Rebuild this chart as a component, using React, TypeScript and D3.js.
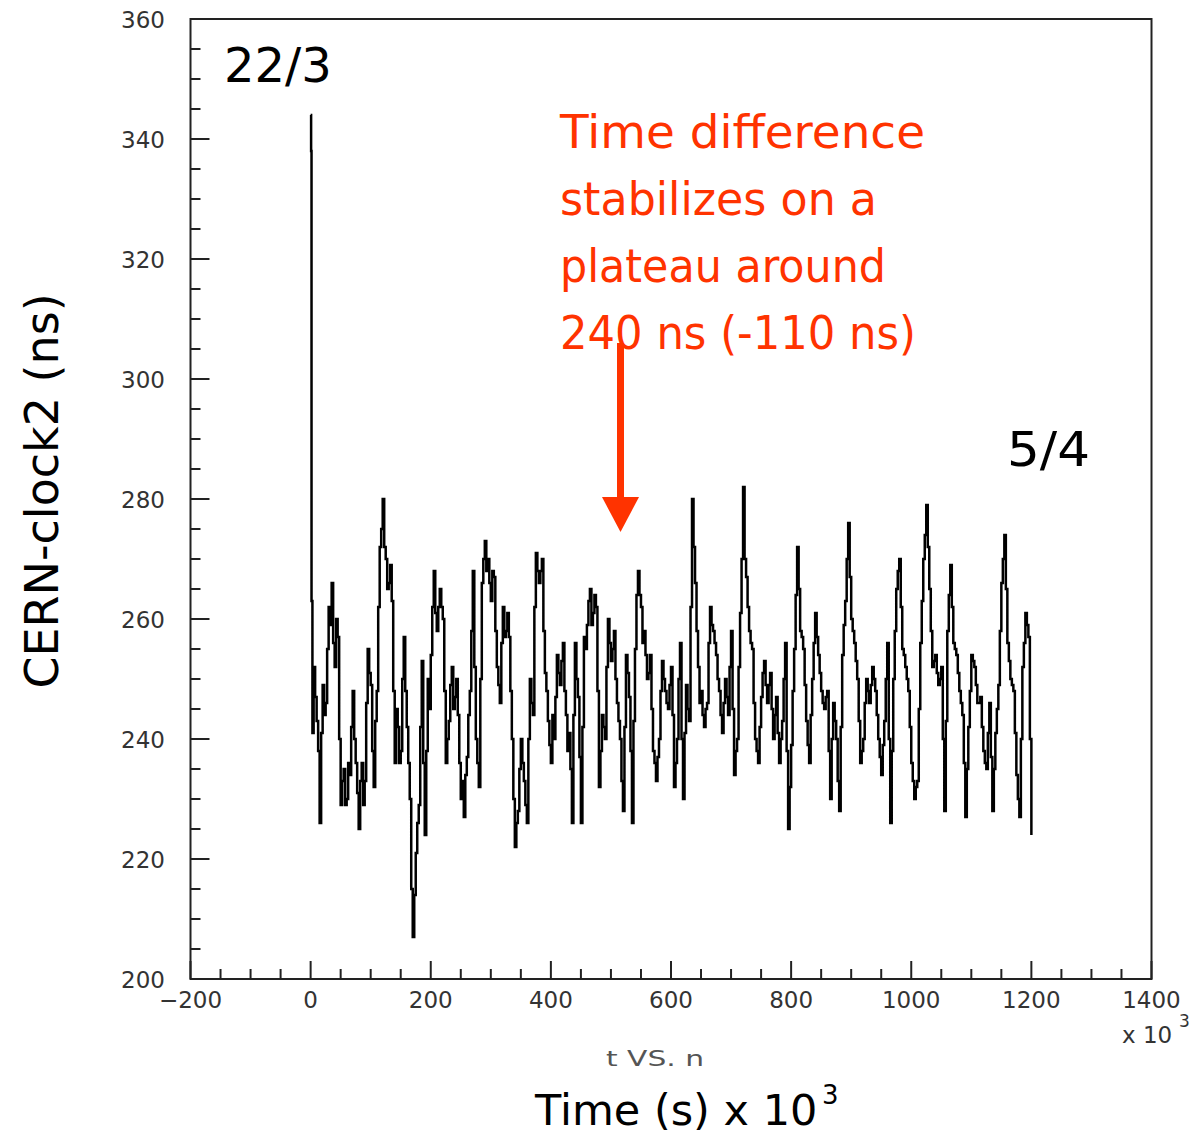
import React from "react";
import * as d3 from "d3";

// ---- data ----
// initial spike right at t = 0 (times in 10^3 s, values in ns)
const spikeTimes = [0, 0.8, 1.5, 3];
const spikeValues = [344, 338, 263, 241];

// main series, one reading every 2.5 x 10^3 s, from t = 5 to t = 1200
const seriesStart = 5;
const seriesStep = 2.5;
const seriesValues = [
  252, 247, 243, 238, 226, 241, 249, 244, 246, 255, 262, 259, 266, 256, 252, 260, 257, 240, 229, 233,
  235, 229, 230, 236, 234, 242, 248, 240, 236, 231, 225, 233, 236, 229, 233, 246, 255, 251, 249, 238,
  232, 243, 248, 262, 272, 275, 280, 272, 270, 265, 266, 269, 263, 248, 236, 245, 242, 236, 238, 250,
  257, 248, 242, 236, 230, 215, 207, 214, 221, 226, 229, 242, 253, 236, 224, 238, 250, 245, 254, 262,
  268, 261, 258, 262, 265, 262, 260, 248, 236, 240, 243, 249, 252, 245, 247, 250, 244, 236, 230, 233,
  227, 234, 237, 244, 248, 258, 268, 252, 240, 236, 232, 250, 266, 270, 273, 268, 270, 266, 263, 268,
  267, 258, 252, 249, 246, 256, 262, 257, 258, 261, 257, 248, 240, 230, 222, 226, 228, 235, 240, 236,
  233, 229, 226, 240, 250, 246, 244, 262, 271, 268, 266, 268, 270, 258, 251, 248, 243, 239, 236, 244,
  240, 247, 254, 251, 249, 253, 256, 248, 244, 238, 241, 235, 226, 244, 256, 250, 247, 237, 226, 242,
  257, 255, 259, 263, 265, 259, 261, 264, 262, 248, 232, 238, 244, 242, 240, 252, 260, 256, 253, 255,
  258, 250, 246, 243, 240, 233, 228, 242, 254, 251, 247, 238, 226, 243, 255, 264, 268, 264, 262, 256,
  258, 254, 250, 251, 254, 245, 238, 236, 233, 237, 240, 248, 253, 250, 248, 246, 245, 249, 252, 244,
  232, 236, 240, 250, 256, 240, 230, 241, 249, 245, 243, 262, 280, 272, 266, 258, 252, 246, 248, 244,
  242, 245, 246, 256, 262, 259, 258, 256, 254, 250, 248, 244, 241, 246, 250, 247, 244, 252, 258, 245,
  234, 238, 240, 252, 261, 270, 282, 270, 267, 262, 258, 256, 255, 246, 240, 238, 236, 242, 247, 251,
  253, 249, 246, 249, 251, 245, 240, 244, 247, 241, 236, 240, 243, 250, 256, 238, 225, 232, 239, 248,
  255, 264, 272, 265, 258, 257, 255, 249, 243, 239, 236, 244, 250, 256, 261, 257, 254, 251, 248, 246,
  245, 247, 248, 238, 230, 240, 246, 243, 240, 233, 228, 242, 254, 259, 263, 270, 276, 267, 260, 258,
  256, 253, 250, 243, 236, 238, 240, 246, 250, 248, 246, 249, 252, 250, 248, 244, 240, 237, 234, 239,
  243, 250, 256, 240, 226, 238, 250, 258, 265, 268, 270, 262, 255, 254, 252, 250, 248, 242, 236, 233,
  230, 232, 233, 245, 256, 263, 270, 274, 279, 272, 265, 258, 252, 253, 254, 251, 249, 250, 252, 240,
  228, 243, 258, 264, 269, 262, 256, 255, 254, 251, 248, 246, 244, 236, 227, 235, 242, 248, 254, 253,
  252, 249, 246, 246, 247, 242, 238, 236, 235, 241, 246, 237, 228, 235, 241, 245, 249, 258, 266, 270,
  274, 265, 256, 253, 250, 249, 248, 241, 234, 230, 227, 240, 252, 256, 261, 259, 257, 240, 224,
];

const xDomain = [-200, 1400];
const yDomain = [200, 360];

const annotationLines = [
  "Time difference",
  "stabilizes on a",
  "plateau around",
  "240 ns (-110 ns)",
];
const annotationWidths = [365, 317, 326, 356];

const FONT = "'DejaVu Sans', sans-serif";
const RED = "#ff3300";
const AXIS = "#222";

export default function App() {
  const W = 1196;
  const H = 1137;
  const x = d3.scaleLinear().domain(xDomain).range([190.5, 1151.5]);
  const y = d3.scaleLinear().domain(yDomain).range([979, 19]);

  const points: [number, number][] = [];
  spikeTimes.forEach((t, i) => points.push([t, spikeValues[i]]));
  seriesValues.forEach((v, i) => points.push([seriesStart + i * seriesStep, v]));

  const line = d3
    .line<[number, number]>()
    .curve(d3.curveStepAfter)
    .x((d) => x(d[0]))
    .y((d) => y(d[1]));

  const xMajor = x.ticks(8);
  const xMinor = x.ticks(32).filter((t) => !xMajor.includes(t));
  const yMajor = y.ticks(8);
  const yMinor = y.ticks(32).filter((t) => !yMajor.includes(t));

  const [x0, x1] = x.range();
  const [y0, y1] = y.range(); // y0 bottom, y1 top

  const fmt = (t: number) => (t < 0 ? "\u2212" + Math.abs(t) : String(t));

  return (
    <svg
      width={W}
      height={H}
      style={{ position: "absolute", left: 0, top: 0, background: "#fff" }}
      xmlns="http://www.w3.org/2000/svg"
    >
      <rect x={0} y={0} width={W} height={H} fill="#fff" />
      {/* frame */}
      <rect
        x={x0}
        y={y1}
        width={x1 - x0}
        height={y0 - y1}
        fill="none"
        stroke={AXIS}
        strokeWidth={2}
      />
      {/* y ticks */}
      {yMajor.map((t) => (
        <line key={"ym" + t} x1={x0} x2={x0 + 19} y1={y(t)} y2={y(t)} stroke={AXIS} strokeWidth={2} />
      ))}
      {yMinor.map((t) => (
        <line key={"yn" + t} x1={x0} x2={x0 + 10} y1={y(t)} y2={y(t)} stroke={AXIS} strokeWidth={2} />
      ))}
      {yMajor.map((t) => (
        <text
          key={"yl" + t}
          x={165}
          y={y(t) + 2}
          textAnchor="end"
          dominantBaseline="middle"
          fontFamily={FONT}
          fontSize={23}
          fill="#333"
        >
          {fmt(t)}
        </text>
      ))}
      {/* x ticks */}
      {xMajor.map((t) => (
        <line key={"xm" + t} x1={x(t)} x2={x(t)} y1={y0} y2={y0 - 18} stroke={AXIS} strokeWidth={2} />
      ))}
      {xMinor.map((t) => (
        <line key={"xn" + t} x1={x(t)} x2={x(t)} y1={y0} y2={y0 - 10} stroke={AXIS} strokeWidth={2} />
      ))}
      {xMajor.map((t) => (
        <text
          key={"xl" + t}
          x={x(t)}
          y={1008}
          textAnchor="middle"
          fontFamily={FONT}
          fontSize={23}
          fill="#333"
        >
          {fmt(t)}
        </text>
      ))}
      <text x={1122} y={1043} fontFamily={FONT} fontSize={23} fill="#333">
        x 10
      </text>
      <text x={1179} y={1027} fontFamily={FONT} fontSize={17} fill="#333">
        3
      </text>

      {/* data */}
      <path d={line(points) || ""} fill="none" stroke="#000" strokeWidth={2.5} strokeLinejoin="miter" />

      {/* date labels */}
      <text x={224} y={82} fontFamily={FONT} fontSize={48} fill="#000">
        22/3
      </text>
      <text x={1007} y={466} fontFamily={FONT} fontSize={48} textLength={83} lengthAdjust="spacingAndGlyphs" fill="#000">
        5/4
      </text>

      {/* red annotation */}
      {annotationLines.map((s, i) => (
        <text
          key={s}
          x={560}
          y={148 + i * 67}
          fontFamily={FONT}
          fontSize={46}
          textLength={annotationWidths[i]}
          lengthAdjust="spacingAndGlyphs"
          fill={RED}
        >
          {s}
        </text>
      ))}
      <line x1={620.5} x2={620.5} y1={343} y2={500} stroke={RED} strokeWidth={7} />
      <path d="M602,497 L639,497 L620.5,532 Z" fill={RED} />

      {/* axis titles */}
      <text
        transform="translate(58,491) rotate(-90)"
        textAnchor="middle"
        fontFamily={FONT}
        fontSize={46}
        fill="#000"
      >
        CERN-clock2 (ns)
      </text>
      <text
        x={606}
        y={1066}
        fontFamily={FONT}
        fontSize={21}
        textLength={98}
        lengthAdjust="spacingAndGlyphs"
        fill="#555"
      >
        t VS. n
      </text>
      <text x={535} y={1125} fontFamily={FONT} fontSize={43} fill="#000">
        Time (s) x 10
      </text>
      <text x={822} y={1104} fontFamily={FONT} fontSize={26} fill="#000">
        3
      </text>
    </svg>
  );
}
